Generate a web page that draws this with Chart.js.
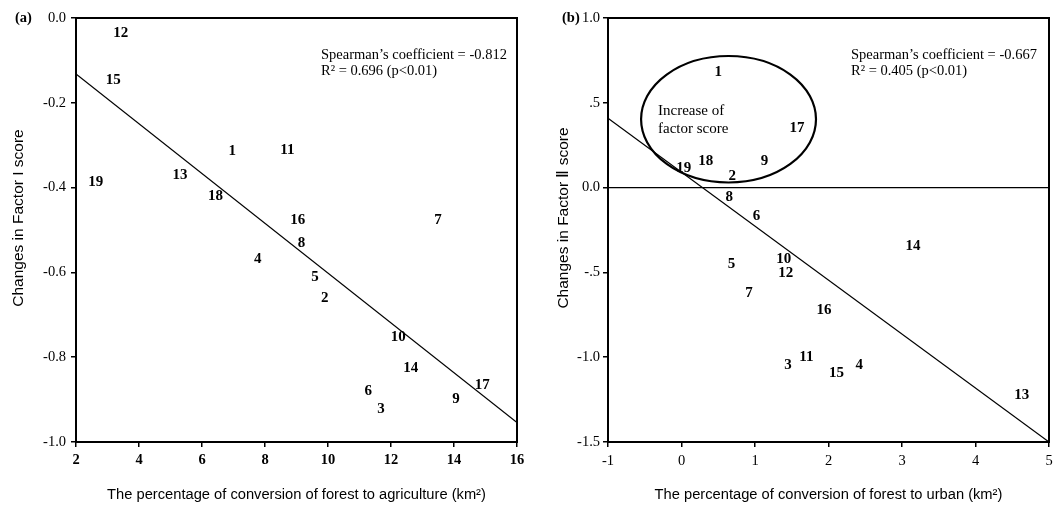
<!DOCTYPE html>
<html>
<head>
<meta charset="utf-8">
<script src="https://cdn.jsdelivr.net/npm/chart.js@4.4.0/dist/chart.umd.min.js"></script>
<style>
  body { margin: 0; background: #fff; }
  #wrap { position: relative; width: 1060px; height: 505px; }
  .panel { position: absolute; top: 0; width: 530px; height: 505px; }
</style>
</head>
<body>
<div id="wrap">
  <div class="panel" style="left:0"><canvas id="chartA" width="530" height="505"></canvas></div>
  <div class="panel" style="left:530px"><canvas id="chartB" width="530" height="505"></canvas></div>
</div>
<script>
// panel (a): forest -> agriculture vs Factor I
let idsA = [1, 2, 3, 4, 5, 6, 7, 8, 9, 10, 11, 12, 13, 14, 15, 16, 17, 18, 19];
let xA = [6.96, 9.90, 11.68, 7.77, 9.59, 11.28, 13.49, 9.16, 14.06, 12.23, 8.71, 3.42, 5.30, 12.63, 3.18, 9.04, 14.90, 6.43, 2.63];
let yA = [-0.313, -0.660, -0.923, -0.568, -0.610, -0.881, -0.476, -0.531, -0.899, -0.753, -0.311, -0.036, -0.370, -0.826, -0.146, -0.476, -0.867, -0.421, -0.388];
let fitAX = [2, 16];
let fitAY = [-0.132, -0.954];
let yTickValsA = [0, -0.2, -0.4, -0.6, -0.8, -1.0];
let yTickLabelsA = ["0.0", "-0.2", "-0.4", "-0.6", "-0.8", "-1.0"];
let notesA = ["Spearman\u2019s coefficient = -0.812", "R\u00b2 = 0.696 (p<0.01)"];

// panel (b): forest -> urban vs Factor II
let idsB = [1, 2, 3, 4, 5, 6, 7, 8, 9, 10, 11, 12, 13, 14, 15, 16, 17, 18, 19];
let xB = [0.50, 0.69, 1.45, 2.42, 0.68, 1.02, 0.92, 0.65, 1.13, 1.39, 1.70, 1.42, 4.63, 3.15, 2.11, 1.94, 1.57, 0.33, 0.03];
let yB = [0.683, 0.070, -1.046, -1.046, -0.450, -0.167, -0.623, -0.054, 0.159, -0.421, -0.997, -0.502, -1.223, -0.348, -1.091, -0.722, 0.353, 0.159, 0.114];
let fitBX = [-1, 5];
let fitBY = [0.409, -1.5];
let zeroBX = [-1, 5];
let zeroBY = [0, 0];
let yTickValsB = [1.0, 0.5, 0, -0.5, -1.0, -1.5];
let yTickLabelsB = ["1.0", ".5", "0.0", "-.5", "-1.0", "-1.5"];
let notesB = ["Spearman\u2019s coefficient = -0.667", "R\u00b2 = 0.405 (p<0.01)"];
let ellipseB = { cx: 0.64, cy: 0.403, rx: 1.19, ry: 0.373 };
let ellipseText = ["Increase of", "factor score"];

const serif = '"Liberation Serif", "Times New Roman", serif';
const sans = '"Liberation Sans", Arial, sans-serif';

function pairs(xs, ys) {
    return xs.map((x, i) => ({ x: x, y: ys[i] }));
}

function tickText(vals, labels) {
    return function(value) {
        let i = vals.findIndex(v => Math.abs(v - value) < 1e-6);
        return i >= 0 ? labels[i] : "";
    };
}

// numbers drawn in place of markers + frame + text notes
const panelPlugin = {
    id: "panel",
    afterDatasetsDraw(chart, args, opts) {
        let ctx = chart.ctx;
        let area = chart.chartArea;
        let meta = chart.getDatasetMeta(0);
        ctx.save();
        ctx.fillStyle = "#000";
        ctx.strokeStyle = "#000";

        if (opts.ellipse) {
            let e = opts.ellipse;
            let sx = chart.scales.x, sy = chart.scales.y;
            let px = sx.getPixelForValue(e.cx), py = sy.getPixelForValue(e.cy);
            let rx = Math.abs(sx.getPixelForValue(e.cx + e.rx) - px);
            let ry = Math.abs(sy.getPixelForValue(e.cy + e.ry) - py);
            ctx.lineWidth = 2.2;
            ctx.beginPath();
            ctx.ellipse(px, py, rx, ry, 0, 0, Math.PI * 2);
            ctx.stroke();
            ctx.font = "15px " + serif;
            ctx.textAlign = "left";
            ctx.textBaseline = "middle";
            ctx.fillText(opts.ellipseText[0], opts.ellipseTextX, opts.ellipseTextY);
            ctx.fillText(opts.ellipseText[1], opts.ellipseTextX, opts.ellipseTextY + 18);
        }

        ctx.font = "bold 15px " + serif;
        ctx.textAlign = "center";
        ctx.textBaseline = "middle";
        meta.data.forEach((pt, i) => {
            ctx.fillText(String(opts.ids[i]), pt.x, pt.y);
        });

        ctx.lineWidth = 2;
        ctx.strokeRect(area.left, area.top, area.right - area.left, area.bottom - area.top);

        ctx.font = "14.5px " + serif;
        ctx.textAlign = "left";
        ctx.fillText(opts.notes[0], 321, 55);
        ctx.fillText(opts.notes[1], 321, 71);

        ctx.font = "bold 14.5px " + serif;
        ctx.fillText(opts.letter, opts.letterX, 18);

        ctx.font = "15.5px " + sans;
        ctx.textAlign = "center";
        ctx.translate(opts.yTitleX, 218);
        ctx.rotate(-Math.PI / 2);
        ctx.fillText(opts.yTitle, 0, 0);
        ctx.restore();
    }
};

function makeChart(id, cfg) {
    return new Chart(document.getElementById(id), {
        type: "scatter",
        data: { datasets: cfg.datasets },
        options: {
            responsive: false,
            animation: false,
            events: [],
            layout: { padding: { top: 18, right: cfg.padRight, left: 0, bottom: 0 } },
            plugins: {
                legend: { display: false },
                tooltip: { enabled: false },
                panel: cfg.panel
            },
            scales: {
                x: {
                    type: "linear",
                    min: cfg.xMin, max: cfg.xMax,
                    afterFit(scale) { scale.height = 63; },
                    ticks: {
                        stepSize: cfg.xStep,
                        color: "#000",
                        padding: 5,
                        font: { family: serif, size: 14.5, weight: cfg.xBold ? "bold" : "normal" }
                    },
                    grid: { drawOnChartArea: false, tickLength: 5, tickColor: "#000", lineWidth: 1.5 },
                    border: { color: "#000", width: 2 },
                    title: {
                        display: true,
                        text: cfg.xTitle,
                        color: "#000",
                        font: { family: sans, size: 14.7 },
                        padding: { top: 0, bottom: 1 }
                    }
                },
                y: {
                    type: "linear",
                    min: cfg.yMin, max: cfg.yMax,
                    afterFit(scale) { scale.width = cfg.yWidth; },
                    ticks: {
                        stepSize: cfg.yStep,
                        color: "#000",
                        padding: cfg.yPad,
                        font: { family: serif, size: 14.5 },
                        callback: tickText(cfg.yVals, cfg.yLabels)
                    },
                    grid: { drawOnChartArea: false, tickLength: 5, tickColor: "#000", lineWidth: 1.5 },
                    border: { color: "#000", width: 2 }
                }
            }
        },
        plugins: [panelPlugin]
    });
}

function pointSet(xs, ys) {
    return { data: pairs(xs, ys), pointRadius: 0, showLine: false };
}

function lineSet(xs, ys, w) {
    return { data: pairs(xs, ys), pointRadius: 0, showLine: true, borderColor: "#000", borderWidth: w, fill: false };
}

makeChart("chartA", {
    datasets: [pointSet(xA, yA), lineSet(fitAX, fitAY, 1.2)],
    padRight: 13,
    xMin: 2, xMax: 16, xStep: 2, xBold: true,
    yMin: -1, yMax: 0, yStep: 0.2, yWidth: 76, yPad: 5,
    yVals: yTickValsA, yLabels: yTickLabelsA,
    xTitle: "The percentage of conversion of forest to agriculture (km\u00b2)",
    panel: {
        ids: idsA, notes: notesA, letter: "(a)", letterX: 15,
        yTitle: "Changes in Factor I score", yTitleX: 19
    }
});

makeChart("chartB", {
    datasets: [pointSet(xB, yB), lineSet(fitBX, fitBY, 1.2), lineSet(zeroBX, zeroBY, 1.2)],
    padRight: 11,
    xMin: -1, xMax: 5, xStep: 1, xBold: false,
    yMin: -1.5, yMax: 1.0, yStep: 0.5, yWidth: 78, yPad: 3,
    yVals: yTickValsB, yLabels: yTickLabelsB,
    xTitle: "The percentage of conversion of forest to urban (km\u00b2)",
    panel: {
        ids: idsB, notes: notesB, letter: "(b)", letterX: 32,
        yTitle: "Changes in Factor \u2161 score", yTitleX: 34,
        ellipse: ellipseB, ellipseText: ellipseText, ellipseTextX: 128, ellipseTextY: 111
    }
});
</script>
</body>
</html>
